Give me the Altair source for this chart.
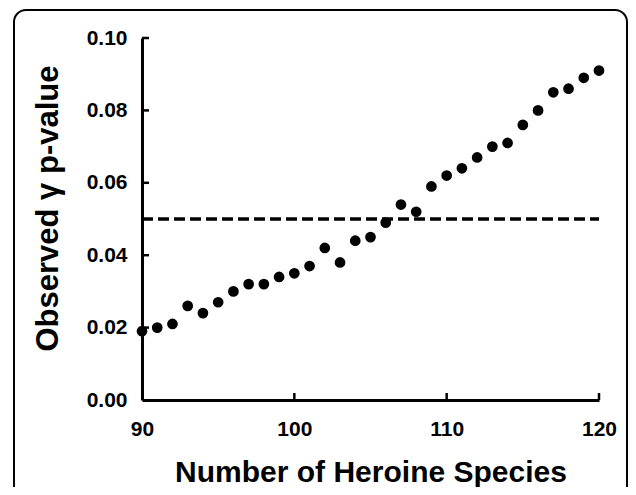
import altair as alt
import pandas as pd

species = list(range(90, 121))
pvalues = [0.019, 0.020, 0.021, 0.026, 0.024, 0.027, 0.030, 0.032, 0.032, 0.034,
           0.035, 0.037, 0.042, 0.038, 0.044, 0.045, 0.049, 0.054, 0.052, 0.059,
           0.062, 0.064, 0.067, 0.070, 0.071, 0.076, 0.080, 0.085, 0.086, 0.089,
           0.091]
threshold = 0.05
x_ticks = [90, 100, 110, 120]
y_ticks = [0.00, 0.02, 0.04, 0.06, 0.08, 0.10]
x_inner_ticks = [100, 110, 120]
y_inner_ticks = [0.02, 0.04, 0.06, 0.08, 0.10]

FONT = "Liberation Sans"
W, H = 457, 362

pts = pd.DataFrame({"x": species, "y": pvalues})
thr = pd.DataFrame({"x": [x_ticks[0]], "x2": [x_ticks[-1]], "y": [threshold]})
xt = pd.DataFrame({"x": x_inner_ticks})
yt = pd.DataFrame({"y": y_inner_ticks})

xscale = alt.Scale(domain=[90, 120], nice=False, zero=False)
yscale = alt.Scale(domain=[0, 0.10], nice=False)

xaxis = alt.Axis(values=x_ticks, title="Number of Heroine Species", grid=False,
                 ticks=False, tickSize=0, domainColor="black", domainWidth=3,
                 labelFont=FONT, labelFontSize=21, labelFontWeight="bold",
                 labelColor="black", labelBaseline="alphabetic", labelPadding=35,
                 labelFlush=False,
                 titleFont=FONT, titleFontSize=30, titleFontWeight="bold",
                 titleColor="black", titleBaseline="alphabetic", titleY=81)
yaxis = alt.Axis(values=y_ticks, format=".2f", title="Observed γ p-value", grid=False,
                 ticks=False, tickSize=0, domainColor="black", domainWidth=3,
                 labelFont=FONT, labelFontSize=21, labelFontWeight="bold",
                 labelColor="black", labelPadding=15, labelFlush=False,
                 titleFont=FONT, titleFontSize=31, titleFontWeight="bold",
                 titleColor="black", titleAngle=270, titleAlign="center",
                 titleBaseline="alphabetic", titleX=-85, titleY=170)

border = alt.Chart(thr).mark_rect(
    fill=None, stroke="black", strokeWidth=2, cornerRadius=12, clip=False
).encode(x=alt.value(-128), x2=alt.value(485), y=alt.value(-28), y2=alt.value(520))

points = alt.Chart(pts).mark_circle(size=115, color="black", opacity=1, clip=False).encode(
    x=alt.X("x:Q", scale=xscale, axis=xaxis),
    y=alt.Y("y:Q", scale=yscale, axis=yaxis),
)

line = alt.Chart(thr).mark_rule(color="black", strokeWidth=3.5, strokeDash=[11, 5]).encode(
    x=alt.X("x:Q", scale=xscale, axis=xaxis),
    x2="x2:Q",
    y=alt.Y("y:Q", scale=yscale, axis=yaxis),
)

xtick_marks = alt.Chart(xt).mark_rule(color="black", strokeWidth=2.5).encode(
    x=alt.X("x:Q", scale=xscale, axis=xaxis),
    y=alt.value(H), y2=alt.value(H - 7),
)
ytick_marks = alt.Chart(yt).mark_rule(color="black", strokeWidth=2.5).encode(
    y=alt.Y("y:Q", scale=yscale, axis=yaxis),
    x=alt.value(0), x2=alt.value(7),
)

chart = alt.layer(border, line, xtick_marks, ytick_marks, points).properties(
    width=W, height=H,
    padding={"left": 134, "top": 30, "right": 29, "bottom": 87},
    autosize=alt.AutoSizeParams(type="none"),
    background="white",
).configure_view(stroke=None)

chart.save("out.html", embed_options={"renderer": "svg", "actions": False})
